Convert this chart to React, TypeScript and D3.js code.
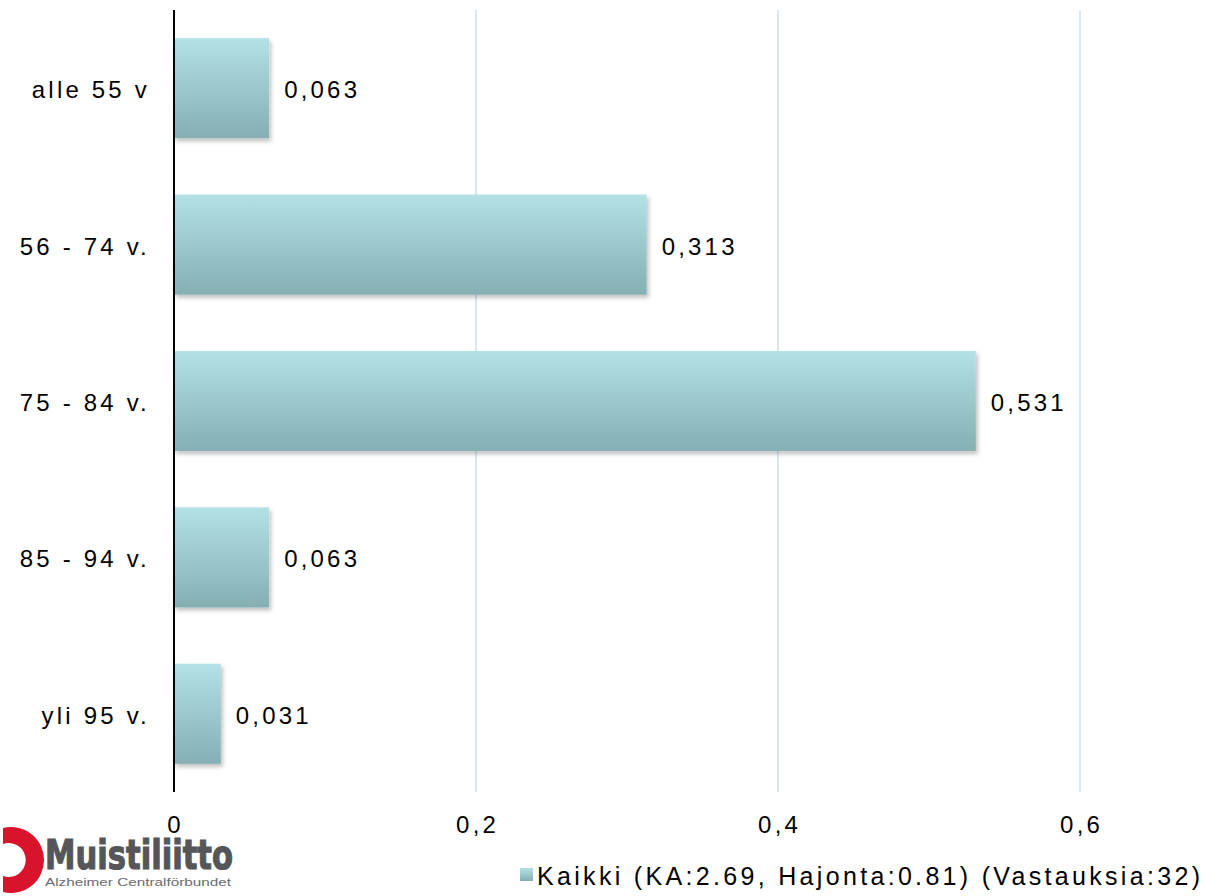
import React from "react"
import * as d3 from "d3"

const categories = ["alle 55 v", "56 - 74 v.", "75 - 84 v.", "85 - 94 v.", "yli 95 v."]
const values = [0.063, 0.313, 0.531, 0.063, 0.031]
const xTicks = [0, 0.2, 0.4, 0.6]
const legendLabel = "Kaikki (KA:2.69, Hajonta:0.81) (Vastauksia:32)"

const fmt = (v: number) => String(v).replace(".", ",")

export default function App() {
    const width = 1206
    const height = 896
    const x0 = 174

    const x = d3.scaleLinear().domain([0, 0.6]).range([x0, x0 + 0.6 * 1510])
    const y = d3.scaleBand<string>()
        .domain(categories)
        .range([10, 792])
        .paddingInner(0.36)
        .paddingOuter(0.18)

    const font = "'Liberation Sans', Arial, sans-serif"

    return (
        <svg width={width} height={height} style={{ position: "absolute", left: 0, top: 0 }}>
            <defs>
                <linearGradient id="barFill" x1="0" y1="0" x2="0" y2="1">
                    <stop offset="0" stopColor="#b3e1e5" />
                    <stop offset="1" stopColor="#85afb2" />
                </linearGradient>
                <filter id="shadow" x="-10%" y="-10%" width="130%" height="130%">
                    <feDropShadow dx="2" dy="3" stdDeviation="2" floodColor="#000" floodOpacity="0.25" />
                </filter>
            </defs>
            <rect width={width} height={height} fill="#fff" />

            {/* gridlines */}
            {xTicks.filter(t => t > 0).map(t => (
                <line key={t} x1={x(t)} x2={x(t)} y1={10} y2={792} stroke="#dce6f0" strokeWidth={2} />
            ))}

            {/* bars */}
            {categories.map((c, i) => (
                <g key={c}>
                    <rect
                        x={x(0)}
                        y={y(c)}
                        width={x(values[i]) - x(0)}
                        height={y.bandwidth()}
                        fill="url(#barFill)"
                        filter="url(#shadow)"
                    />
                    <text
                        x={x(values[i]) + 15}
                        y={(y(c) as number) + y.bandwidth() / 2}
                        dy="0.42em"
                        fontFamily={font}
                        fontSize={24}
                        letterSpacing={3.2}
                        fill="#000"
                    >{fmt(values[i])}</text>
                    <text
                        x={150}
                        y={(y(c) as number) + y.bandwidth() / 2}
                        dy="0.42em"
                        textAnchor="end"
                        fontFamily={font}
                        fontSize={24}
                        letterSpacing={3.2}
                        fill="#000"
                    >{c}</text>
                </g>
            ))}

            {/* axis line */}
            <line x1={x(0)} x2={x(0)} y1={10} y2={792} stroke="#000" strokeWidth={2} />

            {/* x tick labels */}
            {xTicks.map(t => (
                <text
                    key={t}
                    x={x(t) + 1.6}
                    y={833}
                    textAnchor="middle"
                    fontFamily={font}
                    fontSize={24}
                    letterSpacing={3.2}
                    fill="#000"
                >{fmt(t)}</text>
            ))}

            {/* logo */}
            <g>
                <path d="M -30 828 A 33 33 0 1 1 -30 892 L -30 876 A 17 17 0 1 0 -30 844 Z"
                    transform="translate(33,0)" fill="#d8132b" />
                <text x={45} y={869} fontFamily="'DejaVu Sans', sans-serif" fontWeight="bold"
                    fontSize={40} fill="#55565a" stroke="#55565a" strokeWidth={1.2}
                    textLength={188} lengthAdjust="spacingAndGlyphs">Muistiliitto</text>
                <text x={45} y={886} fontFamily={font} fontSize={11} fill="#6b6c70"
                    textLength={186} lengthAdjust="spacingAndGlyphs">Alzheimer Centralförbundet</text>
            </g>

            {/* legend */}
            <rect x={520} y={868} width={13} height={13} fill="url(#barFill)" />
            <text x={537} y={885} fontFamily={font} fontSize={25} fill="#000"
                textLength={663} lengthAdjust="spacing">{legendLabel}</text>
        </svg>
    )
}
